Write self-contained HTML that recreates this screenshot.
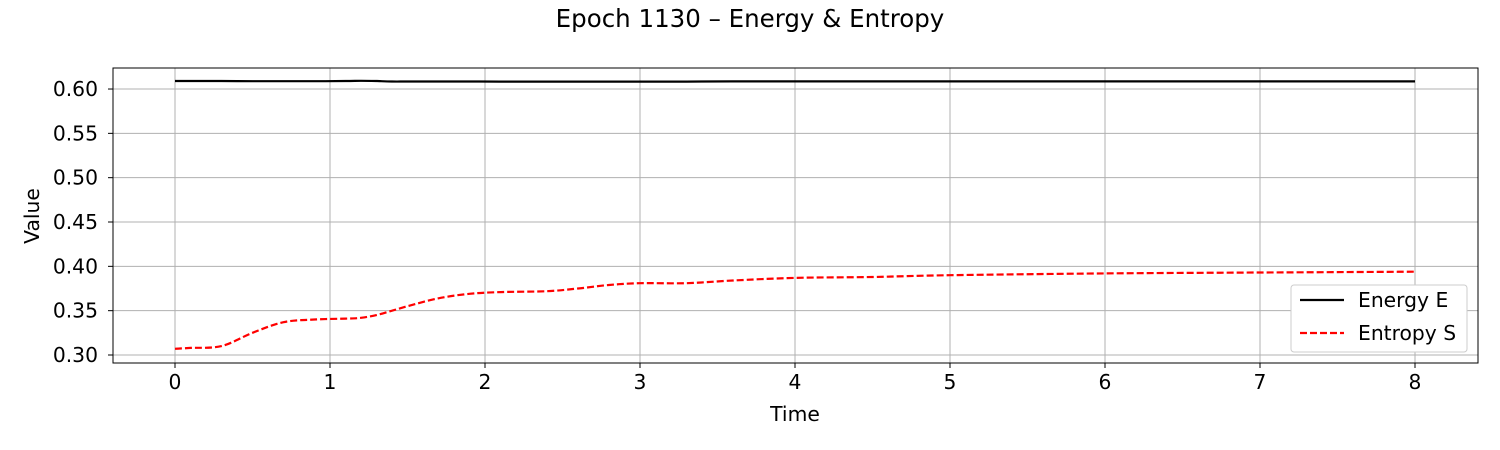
<!DOCTYPE html>
<html><head><meta charset="utf-8"><style>
body{margin:0;background:#fff;}
svg{display:block;font-family:"DejaVu Sans","Liberation Sans",sans-serif;}
</style></head><body>
<svg id="chart" width="1500" height="450">
<text x="750" y="27" text-anchor="middle" font-size="24.5">Epoch 1130 – Energy &amp; Entropy</text>
<g id="grid"></g>
<g id="series"></g>
<rect x="113" y="68" width="1365" height="295" fill="none" stroke="#000" stroke-width="1"/>
<g id="ticks"></g>
<text x="795" y="421" text-anchor="middle" font-size="20.3">Time</text>
<text transform="translate(39,216) rotate(-90)" text-anchor="middle" font-size="20.3">Value</text>
<g>
<rect x="1291" y="285" width="176" height="67" rx="3" fill="#fff" stroke="#ccc"/>
<line x1="1300" y1="300" x2="1344" y2="300" stroke="#000" stroke-width="2.2"/>
<text x="1358" y="307" font-size="20.3">Energy E</text>
<line x1="1300" y1="333" x2="1344" y2="333" stroke="#f00" stroke-width="2.2" stroke-dasharray="7,3"/>
<text x="1358" y="340" font-size="20.3">Entropy S</text>
</g>
</svg>
<script>
const xTicks=[0,1,2,3,4,5,6,7,8];
const yTicks=[0.30,0.35,0.40,0.45,0.50,0.55,0.60];
const times=[0,0.1,0.3,0.5,0.7,0.9,1.1,1.2,1.3,1.4,1.5,1.7,1.9,2.1,2.4,2.6,2.8,3.0,3.3,3.6,4.0,4.5,5.0,6.0,7.0,8.0];
const energy=[0.609,0.609,0.609,0.6088,0.6088,0.6088,0.609,0.6093,0.609,0.6085,0.6085,0.6085,0.6085,0.6084,0.6084,0.6084,0.6084,0.6084,0.6084,0.6086,0.6086,0.6086,0.6086,0.6086,0.6086,0.6086];
const entropy=[0.307,0.308,0.310,0.325,0.337,0.340,0.341,0.342,0.345,0.350,0.355,0.364,0.369,0.371,0.372,0.375,0.379,0.381,0.381,0.384,0.387,0.388,0.390,0.392,0.393,0.394];
const X=t=>175+t*155;
const Y=v=>355-(v-0.30)/0.05*44.33;
const NS='http://www.w3.org/2000/svg';
const grid=document.getElementById('grid'),ticks=document.getElementById('ticks'),ser=document.getElementById('series');
function mk(tag,attrs,parent){const e=document.createElementNS(NS,tag);for(const k in attrs)e.setAttribute(k,attrs[k]);parent.appendChild(e);return e;}
xTicks.forEach(t=>{
 const g=mk('line',{x1:X(t),x2:X(t),y1:68,y2:363,stroke:'#b0b0b0','stroke-width':1},grid);
 
 
 mk('line',{x1:X(t),x2:X(t),y1:363,y2:368,stroke:'#000'},ticks);
 const l=mk('text',{x:X(t),y:389,'text-anchor':'middle','font-size':20.3},ticks);
 l.textContent=t;
 
 
});
yTicks.forEach(v=>{
 const g=mk('line',{x1:113,x2:1478,y1:Y(v),y2:Y(v),stroke:'#b0b0b0','stroke-width':1},grid);
 
 
 mk('line',{x1:108,x2:113,y1:Y(v),y2:Y(v),stroke:'#000'},ticks);
 const l=mk('text',{x:98,y:Y(v)+7,'text-anchor':'end','font-size':20.3},ticks);
 l.textContent=v.toFixed(2);
 
 
});
function path(vals){
 const p=times.map((t,i)=>[X(t),Y(vals[i])]);
 let d='M'+p[0][0].toFixed(1)+','+p[0][1].toFixed(1);
 for(let i=0;i<p.length-1;i++){
  const p0=p[Math.max(0,i-1)],p1=p[i],p2=p[i+1],p3=p[Math.min(p.length-1,i+2)];
  const c1=[p1[0]+(p2[0]-p0[0])/6,p1[1]+(p2[1]-p0[1])/6];
  const c2=[p2[0]-(p3[0]-p1[0])/6,p2[1]-(p3[1]-p1[1])/6];
  d+='C'+c1[0].toFixed(1)+','+c1[1].toFixed(1)+' '+c2[0].toFixed(1)+','+c2[1].toFixed(1)+' '+p2[0].toFixed(1)+','+p2[1].toFixed(1);
 }
 return d;
}
const e=mk('path',{d:path(energy),fill:'none',stroke:'#000','stroke-width':2.2},ser);


const s=mk('path',{d:path(entropy),fill:'none',stroke:'#f00','stroke-width':2.2,'stroke-dasharray':'7,3'},ser);


</script>
</body></html>
